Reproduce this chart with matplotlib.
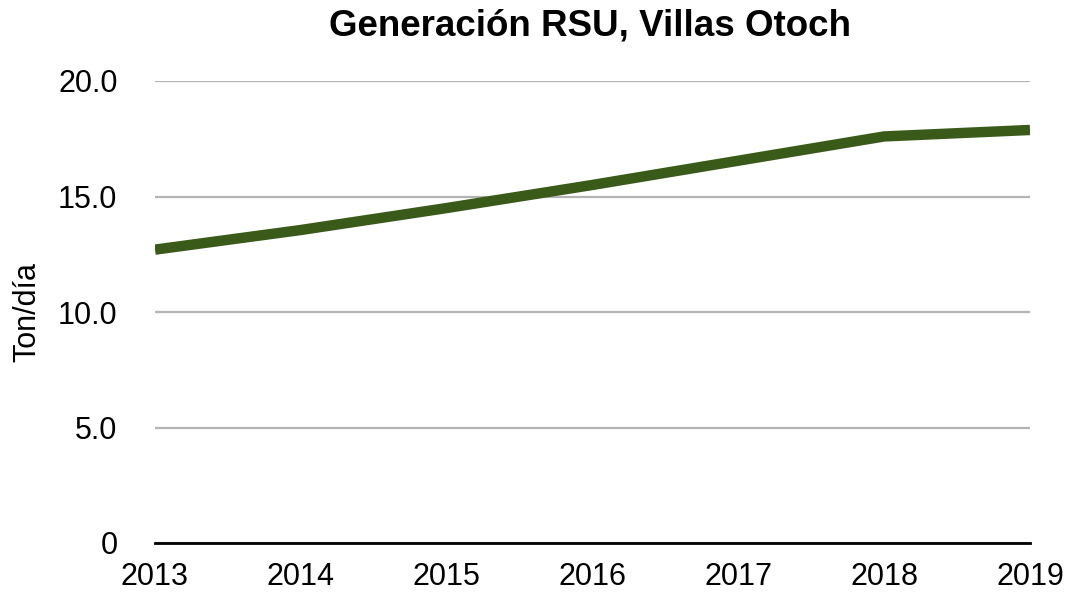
import matplotlib
matplotlib.use("Agg")
import matplotlib.pyplot as plt

years = [2013, 2014, 2015, 2016, 2017, 2018, 2019]
ton_dia = [12.7, 13.55, 14.5, 15.5, 16.55, 17.6, 17.88]
y_ticks = [0, 5, 10, 15, 20]
y_tick_labels = ["0", "5.0", "10.0", "15.0", "20.0"]

plt.rcParams['font.family'] = ['Liberation Sans', 'DejaVu Sans']

fig = plt.figure(figsize=(10.67, 5.93), dpi=100)
ax = fig.add_axes([155/1067, 1 - 543/593, (1030-155)/1067, (543-81)/593])

ax.plot(years, ton_dia, color='#3a5a19', linewidth=7.5, solid_capstyle='butt',
        solid_joinstyle='round', zorder=3)

ax.set_xlim(2013, 2019)
ax.set_ylim(0, 20)
ax.set_yticks(y_ticks)
ax.set_yticklabels(y_tick_labels)
ax.set_xticks(years)
ax.set_xticklabels([str(y) for y in years])
ax.tick_params(axis='both', length=0, labelsize=22)
ax.tick_params(axis='y', pad=27)
ax.tick_params(axis='x', pad=13.5)

ax.grid(axis='y', color='#b4b4b4', linewidth=1.6)
ax.set_axisbelow(True)
for s in ['top', 'right', 'left']:
    ax.spines[s].set_visible(False)
ax.spines['bottom'].set_linewidth(2)
ax.spines['bottom'].set_color('black')
ax.spines['bottom'].set_zorder(4)

ax.set_ylabel('Ton/día', fontsize=22, labelpad=11)
fig.text(590/1067, 1 - 26/593, 'Generación RSU, Villas Otoch', ha='center', va='center',
         fontsize=26.5, fontweight='bold')

fig.savefig('out.png', dpi=100)
